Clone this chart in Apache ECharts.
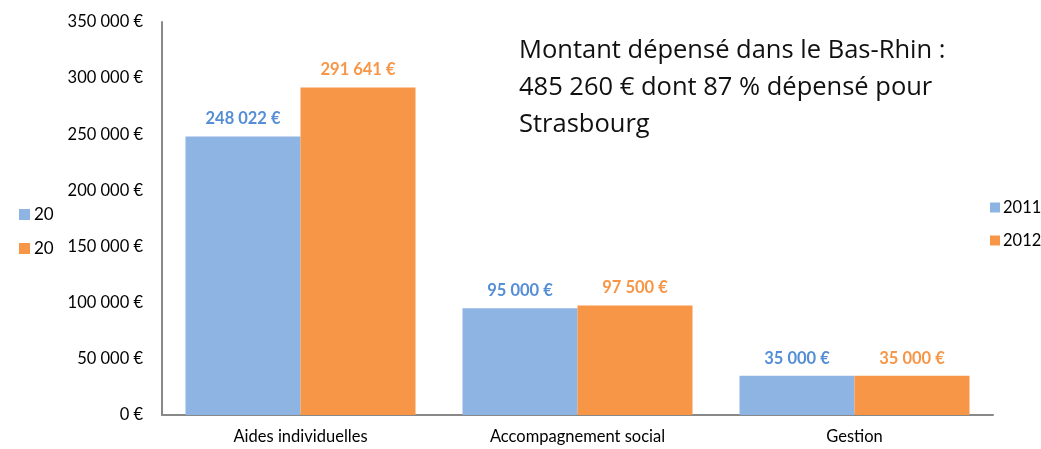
<!DOCTYPE html>
<html>
<head>
    <meta charset="utf-8">
    <title>Montant dépensé</title>
    <script src="https://cdn.jsdelivr.net/npm/echarts@6/dist/echarts.min.js"></script>
    <style>
        html, body { margin: 0; padding: 0; background: #fff; }
        #chart { width: 1041px; height: 449px; }
    </style>
</head>
<body>
<div id="chart"></div>
<script type="text/javascript">
    // données
    var categories = ['Aides individuelles', 'Accompagnement social', 'Gestion'];
    var years = ['2011', '2012'];
    var values2011 = [248022, 95000, 35000];
    var values2012 = [291641, 97500, 35000];
    var yTicks = [0, 50000, 100000, 150000, 200000, 250000, 300000, 350000];

    var blue = '#8EB4E3', orange = '#F79646';
    var font = 'Lato';
    var fs = 16.5;

    function euro(v) {
        return String(v).replace(/\B(?=(\d{3})+(?!\d))/g, ' ') + ' €';
    }

    var myChart = echarts.init(document.getElementById('chart'));
    myChart.setOption({
        animation: false,
        textStyle: { fontFamily: font },
        title: {
            text: 'Montant dépensé dans le Bas-Rhin :\n485 260 € dont 87 % dépensé pour\nStrasbourg',
            left: 514,
            top: 27,
            textStyle: { fontFamily: 'Open Sans', fontSize: 25.5, fontWeight: 'normal', color: '#111', lineHeight: 37 }
        },
        legend: [
            {
                orient: 'vertical',
                left: 985,
                top: 194,
                itemWidth: 10,
                itemHeight: 10,
                itemGap: 16,
                icon: 'rect',
                data: years,
                textStyle: { fontFamily: font, fontSize: fs, color: '#000', padding: [0, 0, 0, -2] }
            },
            {
                // légende rognée à gauche, texte coupé
                orient: 'vertical',
                left: 14,
                top: 201,
                itemWidth: 11,
                itemHeight: 11,
                itemGap: 17,
                icon: 'rect',
                data: years,
                selectedMode: false,
                textStyle: {
                    fontFamily: font, fontSize: 17, color: '#000', padding: [0, 0, 0, -1],
                    width: 26, overflow: 'truncate', ellipsis: ''
                }
            }
        ],
        grid: { left: 162, right: 48, top: 22, bottom: 34 },
        xAxis: {
            type: 'category',
            data: categories,
            axisLine: { lineStyle: { color: '#888', width: 2 } },
            axisTick: { length: 5, lineStyle: { color: '#888', width: 2 } },
            axisLabel: { color: '#000', fontSize: fs, margin: 13, fontFamily: font }
        },
        yAxis: {
            type: 'value',
            min: 0,
            max: yTicks[yTicks.length - 1],
            interval: yTicks[1] - yTicks[0],
            axisLine: { show: true, lineStyle: { color: '#888', width: 2 } },
            axisTick: { show: false },
            splitLine: { show: false },
            axisLabel: { color: '#000', fontSize: fs, margin: 19, fontFamily: font, formatter: euro }
        },
        series: [
            {
                name: years[0],
                type: 'bar',
                data: values2011,
                barWidth: 115,
                barGap: '0%',
                itemStyle: { color: blue },
                label: {
                    show: true, position: 'top', distance: 9,
                    color: '#558ED5', fontWeight: 'bold', fontSize: fs, fontFamily: font,
                    formatter: function (p) { return euro(p.value); }
                }
            },
            {
                name: years[1],
                type: 'bar',
                data: values2012,
                barWidth: 115,
                barGap: '0%',
                itemStyle: { color: orange },
                label: {
                    show: true, position: 'top', distance: 9,
                    color: '#F79646', fontWeight: 'bold', fontSize: fs, fontFamily: font,
                    formatter: function (p) { return euro(p.value); }
                }
            }
        ]
    });
</script>
</body>
</html>
